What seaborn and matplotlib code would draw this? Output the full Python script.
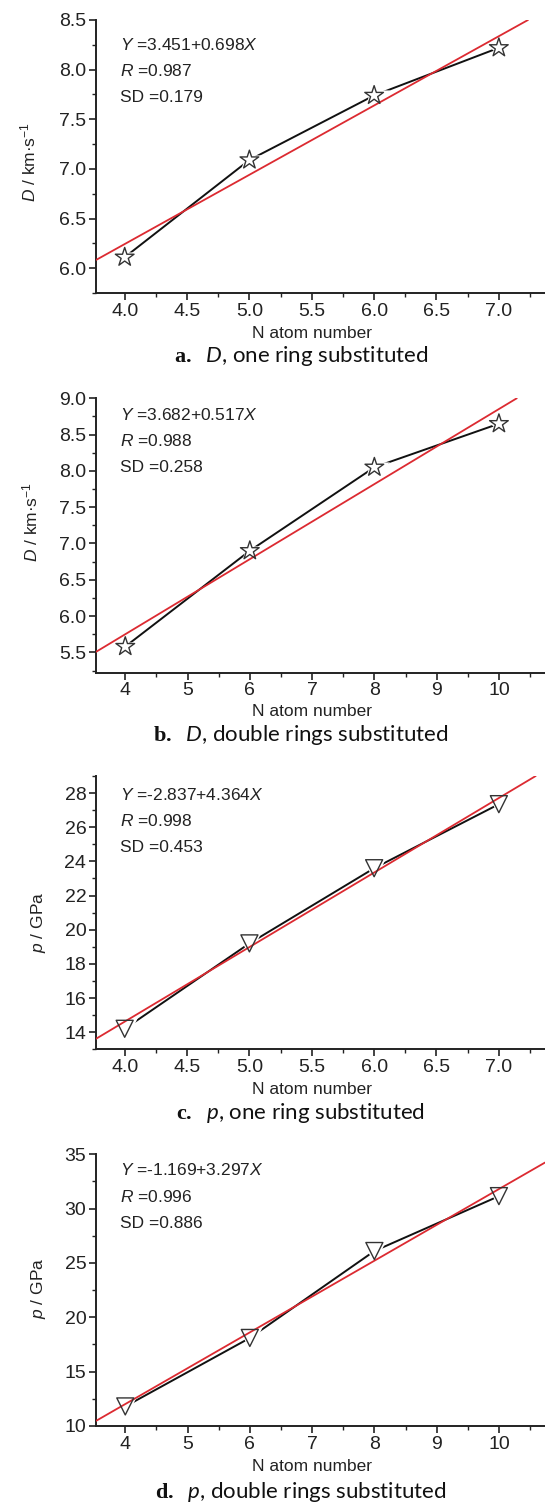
import numpy as np
import pandas as pd
import matplotlib
matplotlib.use("Agg")
import matplotlib.pyplot as plt
from matplotlib.ticker import MultipleLocator, FormatStrFormatter
import seaborn as sns

sns.set_style("ticks")
plt.rcParams['font.family'] = ['Liberation Sans', 'DejaVu Sans']
plt.rcParams['mathtext.fontset'] = 'custom'
plt.rcParams['mathtext.bf'] = 'Liberation Serif:bold'
plt.rcParams['mathtext.it'] = 'Lato:italic'
plt.rcParams['mathtext.sf'] = 'Liberation Sans:italic'
plt.rcParams['mathtext.tt'] = 'Liberation Sans'

# data
n_one = [4, 5, 6, 7]
n_double = [4, 6, 8, 10]
D_one = [6.11, 7.09, 7.74, 8.22]
D_double = [5.58, 6.90, 8.05, 8.65]
p_one = [14.2, 19.2, 23.6, 27.35]
p_double = [11.8, 18.1, 26.1, 31.15]

fit_a = [3.451, 3.682, -2.837, -1.169]
fit_b = [0.698, 0.517, 4.364, 3.297]
fit_R = ["0.987", "0.988", "0.998", "0.996"]
fit_SD = ["0.179", "0.258", "0.453", "0.886"]
eq_text = ["3.451+0.698", "3.682+0.517", "-2.837+4.364", "-1.169+3.297"]

ylabels = [r"$\mathsf{D}$ / km·s$^{\mathtt{-1}}$", r"$\mathsf{D}$ / km·s$^{\mathtt{-1}}$",
           r"$\mathsf{p}$ / GPa", r"$\mathsf{p}$ / GPa"]
captions = [r"$\mathbf{a.}$  $\mathit{D}$, one ring substituted",
            r"$\mathbf{b.}$  $\mathit{D}$, double rings substituted",
            r"$\mathbf{c.}$  $\mathit{p}$, one ring substituted",
            r"$\mathbf{d.}$  $\mathit{p}$, double rings substituted"]

panels = [
    (n_one, D_one, "*", (3.77, 7.37), (5.75, 8.5), 0.5, 0.25, 0.5, 0.25, "%.1f", "%.1f"),
    (n_double, D_double, "*", (3.53, 10.74), (5.22, 9.0), 1, 0.5, 0.5, 0.25, "%d", "%.1f"),
    (n_one, p_one, "v", (3.77, 7.37), (13.0, 29.0), 0.5, 0.25, 2, 1, "%.1f", "%d"),
    (n_double, p_double, "v", (3.53, 10.74), (10.0, 35.0), 1, 0.5, 5, 2.5, "%d", "%d"),
]

# layout in figure pixels: (axes top, axes bottom, text line1 y, xlabel y, ylabel x, ylabel y, caption baseline)
W, H = 545, 1503
layout = [
    (20, 293, 45, 333, 28, 162, 362),
    (398.3, 672.7, 415, 711.7, 30, 522, 741),
    (776, 1049.3, 795, 1090, 38, 922, 1119),
    (1154.3, 1426, 1170, 1466.7, 38, 1288, 1498),
]

fig = plt.figure(figsize=(W / 100, H / 100), dpi=100)
ink = "#222222"

for i, (x, y, mk, xlim, ylim, xmaj, xmin, ymaj, ymin, xfmt, yfmt) in enumerate(panels):
    top, bot, ty, xly, ylx, yly, capy = layout[i]
    ax = fig.add_axes([96 / W, 1 - bot / H, (W - 96) / W, (bot - top) / H])
    df = pd.DataFrame({"n": x, "v": y})

    sns.lineplot(data=df, x="n", y="v", ax=ax, color="#111111", lw=1.4, zorder=1)
    # white halo so the connecting line stops short of the markers
    sns.scatterplot(data=df, x="n", y="v", ax=ax, marker=mk, s=560 if mk == "*" else 360,
                    color="white", edgecolor="white", linewidth=0, zorder=2)
    ax.axline((0, fit_a[i]), slope=fit_b[i], color="#dc2a31", lw=1.3, zorder=3)
    sns.scatterplot(data=df, x="n", y="v", ax=ax, marker=mk, s=200 if mk == "*" else 150,
                    facecolor="none", edgecolor="#333333", linewidth=1.0, zorder=4)

    ax.set_xlim(*xlim)
    ax.set_ylim(*ylim)
    ax.xaxis.set_major_locator(MultipleLocator(xmaj))
    ax.xaxis.set_minor_locator(MultipleLocator(xmin))
    ax.yaxis.set_major_locator(MultipleLocator(ymaj))
    ax.yaxis.set_minor_locator(MultipleLocator(ymin))
    ax.xaxis.set_major_formatter(FormatStrFormatter(xfmt))
    ax.yaxis.set_major_formatter(FormatStrFormatter(yfmt))
    ax.tick_params(which="major", direction="out", length=5, width=1.2, colors=ink,
                   labelsize=14, pad=2)
    ax.tick_params(which="minor", direction="out", length=3, width=1.0, colors=ink)
    for s in ["top", "right"]:
        ax.spines[s].set_visible(False)
    for s in ["left", "bottom"]:
        ax.spines[s].set_linewidth(1.4)
        ax.spines[s].set_color(ink)
    ax.set_xlabel("")
    ax.set_ylabel("")
    ax.patch.set_alpha(0)

    tx = 120 / W
    lines = [r"$\mathsf{Y}$ =" + eq_text[i] + r"$\mathsf{X}$",
             r"$\mathsf{R}$ =" + fit_R[i],
             "SD =" + fit_SD[i]]
    for k, t in enumerate(lines):
        fig.text(tx, 1 - (ty + 26.5 * k) / H, t, fontsize=12.5, color=ink, va="center", ha="left")

    fig.text(312 / W, 1 - xly / H, "N atom number", fontsize=12.5, color=ink, ha="center", va="center")
    fig.text(ylx / W, 1 - yly / H, ylabels[i], fontsize=12.5, color=ink, rotation=90,
             ha="center", va="center")
    fig.text(301 / W, 1 - capy / H, captions[i], fontsize=16, family="Lato", color="#111111",
             ha="center", va="baseline")

fig.savefig("out.png", dpi=100)
